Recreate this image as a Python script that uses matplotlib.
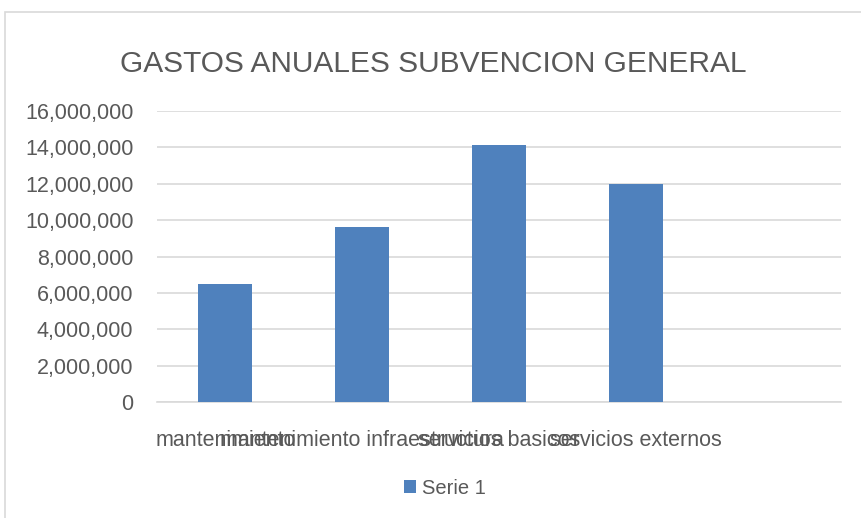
import matplotlib.pyplot as plt
from matplotlib.patches import Rectangle
from matplotlib.ticker import FuncFormatter

# Data
categories = ['mantenimiento', 'mantenimiento infraestructura', 'servicios basicos',
              'servicios externos', '']
values = [6500000, 9620000, 14130000, 12000000, 0]
series_name = 'Serie 1'

plt.rcParams['font.family'] = ['Liberation Sans', 'DejaVu Sans']
text_color = '#595959'
bar_color = '#4f81bd'

fig = plt.figure(figsize=(8.61, 5.18), dpi=100)
ax = fig.add_axes([157 / 861, 1 - 402 / 518, 684 / 861, 291 / 518])

# chart frame
fig.patches.append(Rectangle((5 / 861, -0.1), 1.1, 1 - 12 / 518 + 0.1,
                             transform=fig.transFigure, fill=False,
                             edgecolor='#d9d9d9', linewidth=1.2))

x = range(len(categories))
ax.bar(x, values, width=0.395, color=bar_color, label=series_name, zorder=3)

ax.set_xlim(-0.5, len(categories) - 0.5)
ax.set_ylim(0, 16000000)
ax.set_yticks(range(0, 16000001, 2000000))
ax.yaxis.set_major_formatter(FuncFormatter(lambda v, p: f'{int(v):,}'))
ax.set_xticks(list(x))
ax.set_xticklabels(categories)

ax.grid(axis='y', color='#d9d9d9', linewidth=1.2, zorder=0)
for s in ['top', 'right', 'left']:
    ax.spines[s].set_visible(False)
ax.spines['bottom'].set_color('#d9d9d9')
ax.spines['bottom'].set_linewidth(1.2)
ax.tick_params(axis='both', length=0, labelsize=15.5, colors=text_color)
ax.tick_params(axis='x', pad=20)
ax.tick_params(axis='y', pad=17)

fig.text(0.503, 1 - 64 / 518, 'GASTOS ANUALES SUBVENCION GENERAL', ha='center',
         va='center', fontsize=21.5, color=text_color)

fig.legend(loc='center', bbox_to_anchor=(445 / 861, 1 - 488 / 518), frameon=False,
           fontsize=14.5, labelcolor=text_color, handlelength=0.6, handleheight=0.6,
           handletextpad=0.3)

plt.savefig('out.png', dpi=100)
